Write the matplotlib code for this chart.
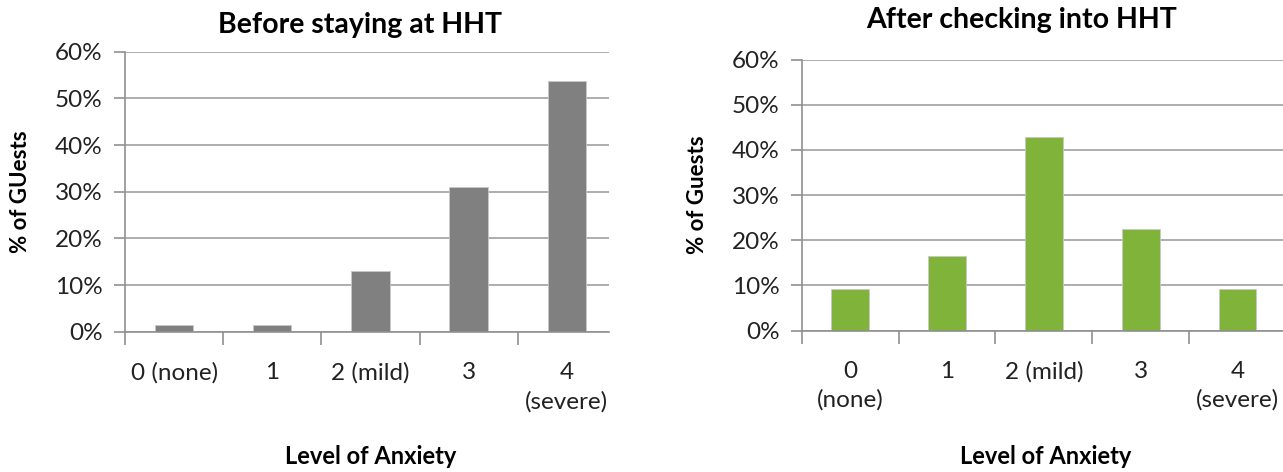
import matplotlib
matplotlib.use("Agg")
import matplotlib.pyplot as plt
from matplotlib.ticker import FixedLocator, FuncFormatter

plt.rcParams['font.family'] = ['Lato', 'DejaVu Sans']

# anxiety levels (shares of guests, %)
levels_before = ['0 (none)', '1', '2 (mild)', '3', '4\n(severe)']
levels_after = ['0\n(none)', '1', '2 (mild)', '3', '4\n(severe)']
before = [1.4, 1.4, 13.0, 31.0, 53.7]
after = [9.2, 16.5, 42.9, 22.5, 9.2]
yticks = [0, 10, 20, 30, 40, 50, 60]

gray_bar = '#808080'
green_bar = '#80b33a'
grid_col = '#a0a0a0'

W, H = 1283, 472
fig = plt.figure(figsize=(W / 100, H / 100), dpi=100)


def px_axes(left, top, right, bottom):
    return fig.add_axes([left / W, 1 - bottom / H, (right - left) / W, (bottom - top) / H])


def draw_panel(ax, labels, vals, color, xmax):
    x = list(range(len(vals)))
    ax.bar(x, vals, width=0.39, color=color, edgecolor='#c8c8c8', linewidth=0.6, zorder=3)
    ax.set_ylim(0, 60)
    ax.set_xlim(-0.5, xmax)
    ax.yaxis.set_major_locator(FixedLocator(yticks))
    ax.yaxis.set_major_formatter(FuncFormatter(lambda v, p: '%d%%' % v))
    ax.grid(axis='y', color=grid_col, linewidth=1.2, zorder=0)
    # tick marks at category boundaries, labels at centres
    ax.xaxis.set_major_locator(FixedLocator([i - 0.5 for i in range(len(vals) + 1)]))
    ax.xaxis.set_major_formatter(FuncFormatter(lambda v, p: ''))
    ax.xaxis.set_minor_locator(FixedLocator(x))
    ax.set_xticklabels(labels, minor=True)
    ax.tick_params(axis='x', which='major', length=9, width=1.2, color='#909090')
    ax.tick_params(axis='x', which='minor', length=0, pad=22, labelsize=17.5, colors='#222222')
    ax.tick_params(axis='y', length=8, width=1.2, color='#909090', labelsize=17.5,
                   labelcolor='#222222', pad=8)
    for s in ['top', 'right']:
        ax.spines[s].set_visible(False)
    for s in ['left', 'bottom']:
        ax.spines[s].set_color('#909090')
        ax.spines[s].set_linewidth(1.2)
    ax.spines['bottom'].set_zorder(4)
    for t in ax.xaxis.get_minorticklabels():
        t.set_linespacing(1.42)
        t.set_verticalalignment('top')


ax1 = px_axes(125, 51.7, 609, 331.7)
draw_panel(ax1, levels_before, before, gray_bar, 4.43)

ax2 = px_axes(801.7, 59.5, 1286, 330.5)
draw_panel(ax2, levels_after, after, green_bar, 4.5)

fig.text(21 / W, 1 - 191.5 / H, '% of GUests', rotation=90, ha='center', va='center',
         fontsize=16, fontweight='bold')
fig.text(698 / W, 1 - 195 / H, '% of Guests', rotation=90, ha='center', va='center',
         fontsize=16, fontweight='bold')
fig.text(360 / W, 1 - 33 / H, 'Before staying at HHT', ha='center', va='baseline',
         fontsize=20.5, fontweight='bold')
fig.text(1022 / W, 1 - 28 / H, 'After checking into HHT', ha='center', va='baseline',
         fontsize=20.5, fontweight='bold')
fig.text(371 / W, 1 - 464 / H, 'Level of Anxiety', ha='center', va='baseline',
         fontsize=17, fontweight='bold')
fig.text(1046 / W, 1 - 464 / H, 'Level of Anxiety', ha='center', va='baseline',
         fontsize=17, fontweight='bold')

fig.savefig('out.png', dpi=100, facecolor='white')
